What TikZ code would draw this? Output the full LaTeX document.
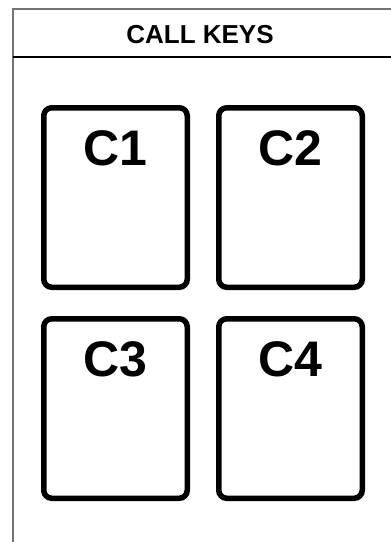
\documentclass[tikz,border=0pt]{standalone}
\usepackage{fontspec}
\setmainfont{Liberation Sans}
\begin{document}
\begin{tikzpicture}[x=1pt,y=-1pt,
  key/.style={draw=black, line width=5.5pt, rounded corners=8pt, minimum width=143.5pt, minimum height=179.5pt, inner sep=0pt},
  keylabel/.style={anchor=base, font=\fontsize{50}{50}\selectfont\bfseries, inner sep=0pt},
  frame/.style={draw=black!55, line width=1.5pt},
  sep/.style={draw=black, line width=1.3pt}]
\useasboundingbox (0,0) rectangle (391,542);
\coordinate (fbl) at (13,545);
\coordinate (ftl) at (13,9);
\coordinate (ftr) at (395,9);
\coordinate (hl) at (13,57);
\coordinate (hr) at (395,57);
\draw[frame] (fbl) -- (ftl) -- (ftr);
\draw[sep] (hl) -- (hr);
\node[anchor=base, font=\fontsize{26}{26}\selectfont\bfseries, inner sep=0pt] (title) at (200,43) {CALL KEYS};
\node[key] (k1) at (115.5,197.5) {};
\node[key] (k2) at (290.5,197.5) {};
\node[key] (k3) at (115.5,408.5) {};
\node[key] (k4) at (290.5,408.5) {};
\node[keylabel] (l1) at ([yshift=-60.5pt]k1.north) {C1};
\node[keylabel] (l2) at ([yshift=-60.5pt]k2.north) {C2};
\node[keylabel] (l3) at ([yshift=-60.5pt]k3.north) {C3};
\node[keylabel] (l4) at ([yshift=-60.5pt]k4.north) {C4};
\end{tikzpicture}
\end{document}
